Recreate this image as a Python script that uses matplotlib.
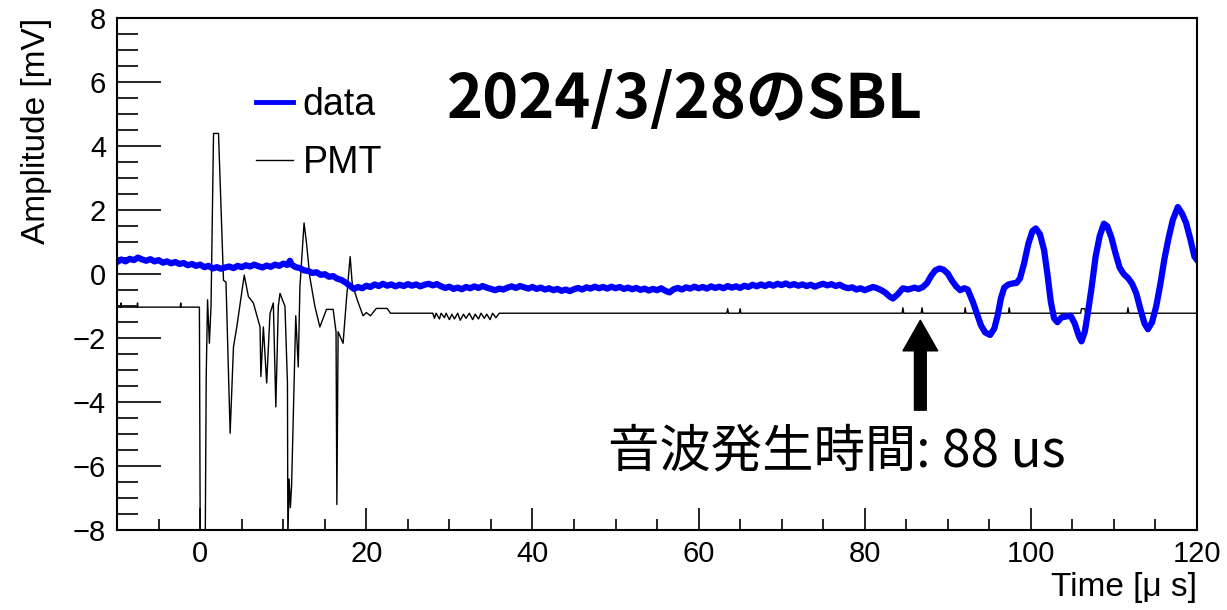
import numpy as np
import matplotlib
matplotlib.use("Agg")
from matplotlib import pyplot as plt
from matplotlib.lines import Line2D
from matplotlib.patches import FancyArrowPatch

plt.rcParams['font.family'] = ['Liberation Sans', 'DejaVu Sans']

# blue waveform (time in us, amplitude in mV)
data_t = [-10, -9.5, -9, -8.5, -8, -7.5, -7, -6.5, -6, -5.5, -5, -4.5, -4, -3.5, -3, -2.5,
          -2, -1.5, -1, -0.5, 0, 0.5, 1, 1.5, 2, 2.5, 3, 3.5, 4, 4.5, 5, 5.5, 6, 6.5, 7,
          7.5, 8, 8.5, 9, 9.5, 10, 10.5, 10.8, 11, 11.5, 12, 12.5, 13, 13.5, 14, 14.5, 15,
          15.5, 16, 16.5, 17, 17.5, 18, 18.5, 19, 19.5, 20, 20.5, 21, 21.5, 22, 22.5, 23,
          23.5, 24, 24.5, 25, 25.5, 26, 26.5, 27, 27.5, 28, 28.5, 29, 29.5, 30, 30.5, 31,
          31.5, 32, 32.5, 33, 33.5, 34, 34.5, 35, 35.5, 36, 36.5, 37, 37.5, 38, 38.5, 39,
          39.5, 40, 40.5, 41, 41.5, 42, 42.5, 43, 43.5, 44, 44.5, 45, 45.5, 46, 46.5, 47,
          47.5, 48, 48.5, 49, 49.5, 50, 50.5, 51, 51.5, 52, 52.5, 53, 53.5, 54, 54.5, 55,
          55.5, 56, 56.5, 57, 57.5, 58, 58.5, 59, 59.5, 60, 60.5, 61, 61.5, 62, 62.5, 63,
          63.5, 64, 64.5, 65, 65.5, 66, 66.5, 67, 67.5, 68, 68.5, 69, 69.5, 70, 70.5, 71,
          71.5, 72, 72.5, 73, 73.5, 74, 74.5, 75, 75.5, 76, 76.5, 77, 77.5, 78, 78.5, 79,
          79.5, 80, 80.5, 81, 81.5, 82, 82.5, 83, 83.4, 84, 84.6, 85.2, 86, 86.5, 87, 87.5,
          88, 88.5, 89, 89.5, 90, 90.5, 91, 91.5, 92, 92.4, 93, 93.5, 94, 94.5, 95.1, 95.6,
          96, 96.4, 96.8, 97.3, 97.8, 98.3, 98.7, 99.2, 99.7, 100.2, 100.6, 101.1, 101.6,
          102.0, 102.4, 102.8, 103.2, 103.7, 104.3, 104.8, 105.3, 105.8, 106.1, 106.5,
          106.9, 107.3, 107.8, 108.3, 108.8, 109.2, 109.7, 110.2, 110.7, 111.2, 111.7,
          112.2, 112.7, 113.2, 113.7, 114.1, 114.6, 115.1, 115.6, 116.1, 116.6, 117.1,
          117.7, 118.2, 118.7, 119.2, 119.7, 120]
data_v = [0.38, 0.46, 0.40, 0.48, 0.44, 0.52, 0.46, 0.42, 0.47, 0.40, 0.44, 0.36, 0.40,
          0.34, 0.38, 0.32, 0.35, 0.28, 0.32, 0.26, 0.30, 0.22, 0.26, 0.18, 0.22, 0.17,
          0.21, 0.24, 0.19, 0.26, 0.22, 0.28, 0.24, 0.30, 0.25, 0.21, 0.27, 0.23, 0.30,
          0.26, 0.33, 0.29, 0.42, 0.30, 0.22, 0.19, 0.12, 0.10, 0.04, 0.06, -0.02, 0.00,
          -0.08, -0.06, -0.14, -0.18, -0.26, -0.36, -0.46, -0.40, -0.44, -0.36, -0.40,
          -0.32, -0.37, -0.30, -0.36, -0.32, -0.38, -0.33, -0.37, -0.31, -0.36, -0.32,
          -0.38, -0.33, -0.30, -0.35, -0.31, -0.38, -0.43, -0.39, -0.46, -0.42, -0.47,
          -0.40, -0.44, -0.38, -0.43, -0.37, -0.42, -0.46, -0.50, -0.45, -0.48, -0.42,
          -0.38, -0.43, -0.37, -0.41, -0.45, -0.40, -0.46, -0.42, -0.48, -0.44, -0.50,
          -0.46, -0.52, -0.48, -0.53, -0.47, -0.43, -0.48, -0.41, -0.45, -0.39, -0.44,
          -0.40, -0.45, -0.39, -0.44, -0.40, -0.46, -0.42, -0.47, -0.43, -0.49, -0.45,
          -0.51, -0.46, -0.50, -0.44, -0.52, -0.57, -0.47, -0.43, -0.48, -0.41, -0.45,
          -0.39, -0.44, -0.40, -0.45, -0.38, -0.43, -0.39, -0.44, -0.37, -0.42, -0.38,
          -0.43, -0.36, -0.40, -0.33, -0.38, -0.32, -0.37, -0.31, -0.36, -0.30, -0.34,
          -0.29, -0.35, -0.31, -0.36, -0.32, -0.37, -0.33, -0.39, -0.34, -0.30, -0.35,
          -0.31, -0.37, -0.33, -0.40, -0.44, -0.41, -0.48, -0.44, -0.50, -0.45, -0.40,
          -0.44, -0.50, -0.58, -0.70, -0.76, -0.62, -0.44, -0.48, -0.42, -0.46, -0.40,
          -0.28, -0.05, 0.12, 0.18, 0.14, 0.02, -0.20, -0.38, -0.50, -0.44, -0.48, -0.85,
          -1.22, -1.60, -1.82, -1.90, -1.70, -1.30, -0.75, -0.42, -0.32, -0.29, -0.27,
          -0.13, 0.35, 0.95, 1.35, 1.43, 1.25, 0.75, 0.00, -0.85, -1.38, -1.50, -1.35,
          -1.32, -1.30, -1.55, -1.95, -2.10, -1.80, -1.15, -0.45, 0.55, 1.20, 1.58, 1.50,
          1.15, 0.65, 0.20, 0.00, -0.12, -0.30, -0.60, -1.10, -1.55, -1.72, -1.50, -1.00,
          -0.30, 0.50, 1.15, 1.70, 2.10, 1.90, 1.60, 1.10, 0.55, 0.45]

# PMT trace
pmt_t = [-10, -9.6, -9.55, -9.5, -7.6, -7.55, -7.5, -2.4, -2.35, -2.3, -0.1, 0.0, 0.6, 0.72,
         0.88, 1.1, 1.3, 1.6, 2.2, 2.8, 3.1, 3.6, 4.0, 4.4, 5.3, 5.8, 6.4, 7.2, 7.3, 7.6,
         8.0, 8.4, 8.8, 9.1, 9.4, 9.6, 10.2, 10.5, 10.55, 10.7, 10.85, 11.0, 11.5, 11.8,
         12.0, 12.5, 12.8, 13.2, 13.8, 14.4, 15.2, 16.0, 16.35, 16.45, 16.6, 17.2, 17.6,
         18.05, 18.3, 18.9, 19.6, 20.0, 20.5, 21.2, 22.5, 22.9,
         28.0, 28.2, 28.4, 28.8, 29.0, 29.4, 29.6, 30.0, 30.3, 30.6, 31.0, 31.3, 31.7,
         32.0, 32.4, 32.8, 33.1, 33.5, 33.8, 34.2, 34.5, 34.9, 35.2, 35.6, 36.0,
         63.4, 63.5, 63.6, 64.9, 65.0, 65.1, 84.5, 84.6, 84.7, 86.8, 86.9, 87.0,
         92.0, 92.1, 92.2, 97.3, 97.4, 97.5, 106.0, 106.1, 106.5, 106.6, 111.6, 111.7,
         111.8, 120]
pmt_v = [-1.03, -1.03, -0.9, -1.03, -1.03, -0.9, -1.03, -1.03, -0.9, -1.03, -1.03, -8.5,
         -8.5, -3.2, -0.8, -2.16, -1.0, 4.4, 4.4, -0.19, -0.25, -4.97, -2.28, -1.65, -0.03,
         -0.7, -0.9, -1.65, -3.2, -1.65, -3.4, -1.23, -0.9, -4.15, -1.0, -0.6, -1.0, -3.4,
         -8.3, -6.4, -7.3, -6.6, -1.3, -2.9, -0.4, 1.6, 0.96, -0.1, -1.0, -1.65, -1.1, -1.1,
         -1.8, -7.2, -1.8, -2.16, -0.8, 0.55, -0.3, -0.8, -1.3, -1.2, -1.3, -1.07, -1.07,
         -1.22,
         -1.22, -1.38, -1.22, -1.40, -1.22, -1.36, -1.22, -1.42, -1.25, -1.40, -1.22, -1.44,
         -1.25, -1.38, -1.22, -1.42, -1.25, -1.40, -1.22, -1.38, -1.25, -1.42, -1.22, -1.36,
         -1.22,
         -1.22, -1.08, -1.22, -1.22, -1.08, -1.22, -1.22, -1.05, -1.22, -1.22, -1.05, -1.22,
         -1.22, -1.05, -1.22, -1.22, -1.05, -1.22, -1.22, -1.08, -1.08, -1.22, -1.22, -1.05,
         -1.22, -1.22]

arrow_t = 86.7
arrow_tip = -1.44
arrow_base = -4.25

fig = plt.figure(figsize=(12.27, 6.10), dpi=100)
ax = fig.add_axes([0.0955, 0.131, 0.880, 0.839])

ax.plot(pmt_t, pmt_v, color='black', lw=1.0, label='PMT')
ax.plot(data_t, data_v, color='#0000ff', lw=4.5, label='data', solid_joinstyle='round')

ax.set_xlim(-10, 120)
ax.set_ylim(-8, 8)
ax.set_xticks(np.arange(0, 121, 20))
ax.set_xticks(np.arange(-10, 121, 5), minor=True)
ax.set_yticks(np.arange(-8, 9, 2))
ax.set_yticks(np.arange(-8, 8.1, 0.5), minor=True)
ax.tick_params(which='both', direction='in', top=False, right=False, labelsize=21, width=1.2)
ax.tick_params(axis='y', which='major', length=32, pad=8)
ax.tick_params(axis='y', which='minor', length=15)
ax.tick_params(axis='x', which='major', length=16, pad=7)
ax.tick_params(axis='x', which='minor', length=8)
for s in ax.spines.values():
    s.set_linewidth(1.5)

ax.set_ylabel('Amplitude [mV]', loc='top', fontsize=24)
ax.yaxis.set_label_coords(-0.060, 1.0)
ax.set_xlabel('Time [\u03bc s]', loc='right', fontsize=24)
ax.xaxis.set_label_coords(1.0, -0.082)

handles = [Line2D([], [], color='#0000ff', lw=3.5), Line2D([], [], color='black', lw=1.0)]
fig.legend(handles, ['data', 'PMT'], loc='upper left', bbox_to_anchor=(0.181, 0.913),
           frameon=False, fontsize=27, handlelength=1.0, handletextpad=0.25, labelspacing=0.6)

arr = FancyArrowPatch((arrow_t, arrow_base), (arrow_t, arrow_tip),
                      arrowstyle='simple,head_width=25,head_length=22,tail_width=8.5',
                      mutation_scale=1, color='black', shrinkA=0, shrinkB=0)
ax.add_patch(arr)

jp = ['Noto Sans CJK JP', 'DejaVu Sans']
fig.text(0.558, 0.836, '2024/3/28のSBL', fontsize=44, fontweight='bold', family=jp,
         ha='center', va='center')
fig.text(0.682, 0.259, '音波発生時間: 88 us', fontsize=37, family=jp,
         ha='center', va='center')

fig.savefig('out.png', dpi=100)
